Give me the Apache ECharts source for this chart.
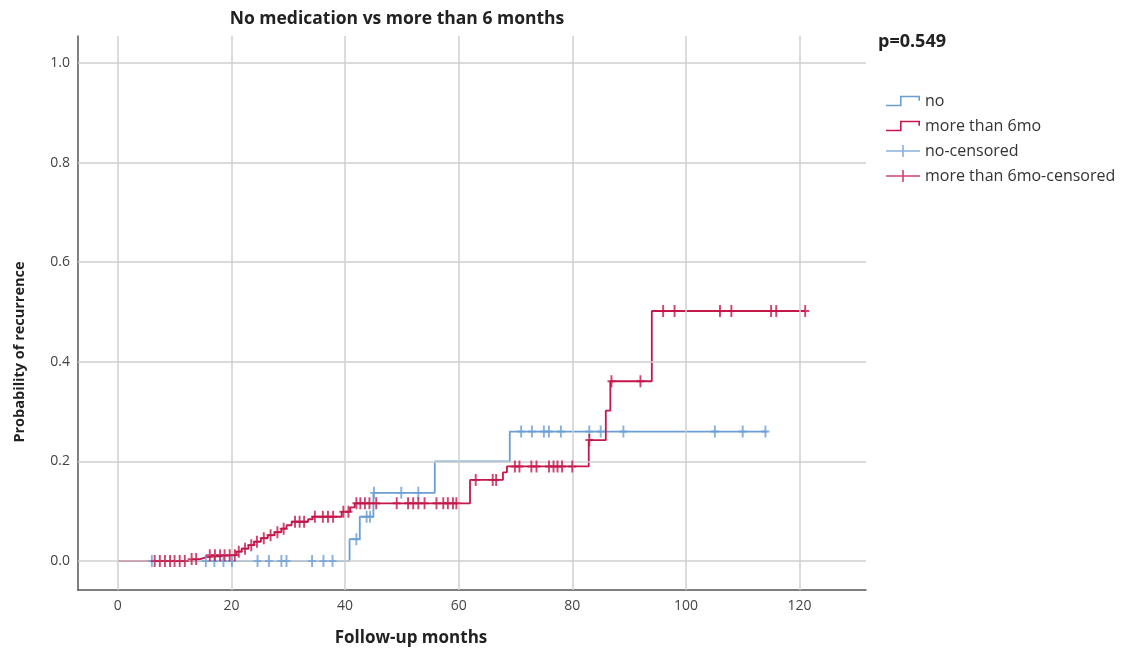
<!DOCTYPE html>
<html>
<head>
<meta charset="utf-8">
<script src="https://cdn.jsdelivr.net/npm/echarts@6/dist/echarts.min.js"></script>
<style>
html,body{margin:0;padding:0;background:#fff;}
#chart{width:1141px;height:658px;}
</style>
</head>
<body>
<div id="chart"></div>
<script>
// ---- data ----
const xTicks = [0, 20, 40, 60, 80, 100, 120];
const yTicks = [0, 0.2, 0.4, 0.6, 0.8, 1.0];
const yTickLabels = ['0.0', '0.2', '0.4', '0.6', '0.8', '1.0'];

// "no" group: event times and cumulative probability after each event
const noTimes  = [0, 40.8, 42.6, 45.0, 55.8, 69.0, 114.3];
const noLevels = [0, 0.044, 0.089, 0.137, 0.200, 0.260, 0.260];
const noCensored = [6.0, 15.5, 17.0, 18.6, 20.1, 24.6, 26.6, 28.8, 29.7, 34.2, 36.2, 37.8,
  42.0, 43.8, 44.4, 45.1, 49.9, 52.9, 71.0, 72.9, 75.0, 75.9, 78.0, 83.0, 85.0, 89.0,
  105.1, 110.0, 114.0];

// "more than 6mo" group
const moTimes  = [0, 12.2, 14.5, 15.6, 20.9, 21.8, 23.0, 24.0, 25.2, 26.4, 27.6, 28.8, 29.7,
  30.6, 33.5, 34.3, 39.4, 40.9, 41.7, 62.0, 67.8, 68.5, 82.9, 85.9, 86.7, 94.0, 121.0];
const moLevels = [0, 0.004, 0.008, 0.012, 0.019, 0.025, 0.032, 0.039, 0.046, 0.052, 0.058, 0.065, 0.072,
  0.079, 0.084, 0.089, 0.099, 0.108, 0.116, 0.163, 0.178, 0.190, 0.243, 0.302, 0.361, 0.502, 0.502];
const moCensored = [6.5, 7.4, 8.3, 9.2, 10.0, 10.9, 11.8, 13.0, 13.8, 16.2, 17.1, 18.0, 18.8, 19.7,
  20.6, 21.3, 22.4, 23.5, 24.5, 25.7, 26.9, 28.1, 29.2, 31.2, 32.0, 32.8, 34.7, 36.1, 37.0, 37.9,
  39.7, 40.6, 42.0, 42.7, 43.5, 44.3, 45.5, 49.1, 51.1, 52.0, 52.9, 54.0, 56.1, 57.3, 58.1, 59.0,
  59.6, 63.0, 66.0, 66.6, 69.9, 70.7, 72.8, 73.7, 75.9, 76.7, 77.4, 78.2, 80.0, 83.0, 86.9, 92.0,
  96.0, 98.0, 106.0, 108.0, 115.0, 115.9, 121.0];

const seriesNames = ['no', 'more than 6mo', 'no-censored', 'more than 6mo-censored'];
const titleText = 'No medication vs more than 6 months';
const pText = 'p=0.549';
const xName = 'Follow-up months';
const yName = 'Probability of recurrence';

// ---- build ----
const BLUE = '#6a9fd4';
const RED = '#c4174a';
const FONT = 'Open Sans';

function pairs(ts, ls) { return ts.map((t, i) => [t, ls[i]]); }
function levelAt(ts, ls, t) {
  let v = ls[0];
  for (let i = 0; i < ts.length; i++) { if (ts[i] <= t) v = ls[i]; }
  return v;
}
function censorPoints(cs, ts, ls) { return cs.map(t => [t, levelAt(ts, ls, t)]); }

const crossPath = 'path://M0,4.2 H10 V5.8 H0 Z M3.8,0 H6.2 V10 H3.8 Z';
const stepIcon = 'path://M0,10 H14 V1 H34 V6 H32.4 V2.6 H15.6 V11.6 H0 Z';
const crossIcon = 'path://M0,5.2 H34 V6.8 H0 Z M16.2,0 H17.8 V12 H16.2 Z';

const gridLineData = xTicks.map(v => ({ xAxis: v })).concat(yTicks.map(v => ({ yAxis: v })));

const chart = echarts.init(document.getElementById('chart'), null, { renderer: 'canvas' });
chart.setOption({
  animation: false,
  backgroundColor: '#ffffff',
  grid: { left: 78, right: 275, top: 36, bottom: 68, containLabel: false, outerBoundsMode: 'none' },
  xAxis: {
    type: 'value', min: -7, max: 131.7,
    axisLine: { show: true, onZero: false, lineStyle: { color: '#555', width: 1.5 } },
    axisTick: { show: false },
    splitLine: { show: false },
    axisLabel: { customValues: xTicks, color: '#444', fontFamily: FONT, fontSize: 14, margin: 9 }
  },
  yAxis: {
    type: 'value', min: -0.058, max: 1.054,
    axisLine: { show: true, onZero: false, lineStyle: { color: '#555', width: 1.5 } },
    axisTick: { show: false },
    splitLine: { show: false },
    axisLabel: {
      customValues: yTicks, color: '#444', fontFamily: FONT, fontSize: 14, margin: 8,
      formatter: v => { const i = yTicks.findIndex(t => Math.abs(t - v) < 1e-9); return i >= 0 ? yTickLabels[i] : ''; }
    }
  },
  legend: {
    orient: 'vertical', left: 881, top: 88,
    itemWidth: 34, itemHeight: 12, itemGap: 9,
    textStyle: { color: '#333', fontFamily: FONT, fontSize: 16, lineHeight: 16 },
    selectedMode: false,
    data: [
      { name: seriesNames[0], icon: stepIcon, itemStyle: { color: BLUE } },
      { name: seriesNames[1], icon: stepIcon, itemStyle: { color: RED } },
      { name: seriesNames[2], icon: crossIcon, itemStyle: { color: BLUE } },
      { name: seriesNames[3], icon: crossIcon, itemStyle: { color: RED } }
    ]
  },
  graphic: [
    { type: 'text', x: 397, y: 19, style: { text: titleText, fill: '#222', font: 'bold 17.5px "Open Sans"', align: 'center', verticalAlign: 'middle' } },
    { type: 'text', x: 878, y: 42, style: { text: pText, fill: '#222', font: 'bold 18px "Open Sans"', align: 'left', verticalAlign: 'middle' } },
    { type: 'text', x: 411, y: 638, style: { text: xName, fill: '#222', font: 'bold 17px "Open Sans"', align: 'center', verticalAlign: 'middle' } },
    { type: 'text', x: 20, y: 352, rotation: Math.PI / 2, style: { text: yName, fill: '#222', font: 'bold 14.5px "Open Sans"', align: 'center', verticalAlign: 'middle' } }
  ],
  series: [
    {
      name: '_grid', type: 'line', data: [], silent: true, z: 1,
      markLine: {
        silent: true, symbol: 'none', animation: false,
        label: { show: false },
        lineStyle: { type: 'solid', color: '#cfcfcf', width: 1.5 },
        emphasis: { disabled: true },
        data: gridLineData
      }
    },
    {
      name: seriesNames[0], type: 'line', step: 'end', data: pairs(noTimes, noLevels),
      symbol: 'none', z: 3, itemStyle: { color: BLUE }, lineStyle: { color: BLUE, width: 1.8 }
    },
    {
      name: seriesNames[1], type: 'line', step: 'end', data: pairs(moTimes, moLevels),
      symbol: 'none', z: 4, itemStyle: { color: RED }, lineStyle: { color: RED, width: 1.8 }
    },
    {
      name: seriesNames[2], type: 'scatter', data: censorPoints(noCensored, noTimes, noLevels),
      symbol: crossPath, symbolSize: [8, 12], z: 5, itemStyle: { color: BLUE }
    },
    {
      name: seriesNames[3], type: 'scatter', data: censorPoints(moCensored, moTimes, moLevels),
      symbol: crossPath, symbolSize: [8, 12], z: 6, itemStyle: { color: RED }
    }
  ]
});
</script>
</body>
</html>
